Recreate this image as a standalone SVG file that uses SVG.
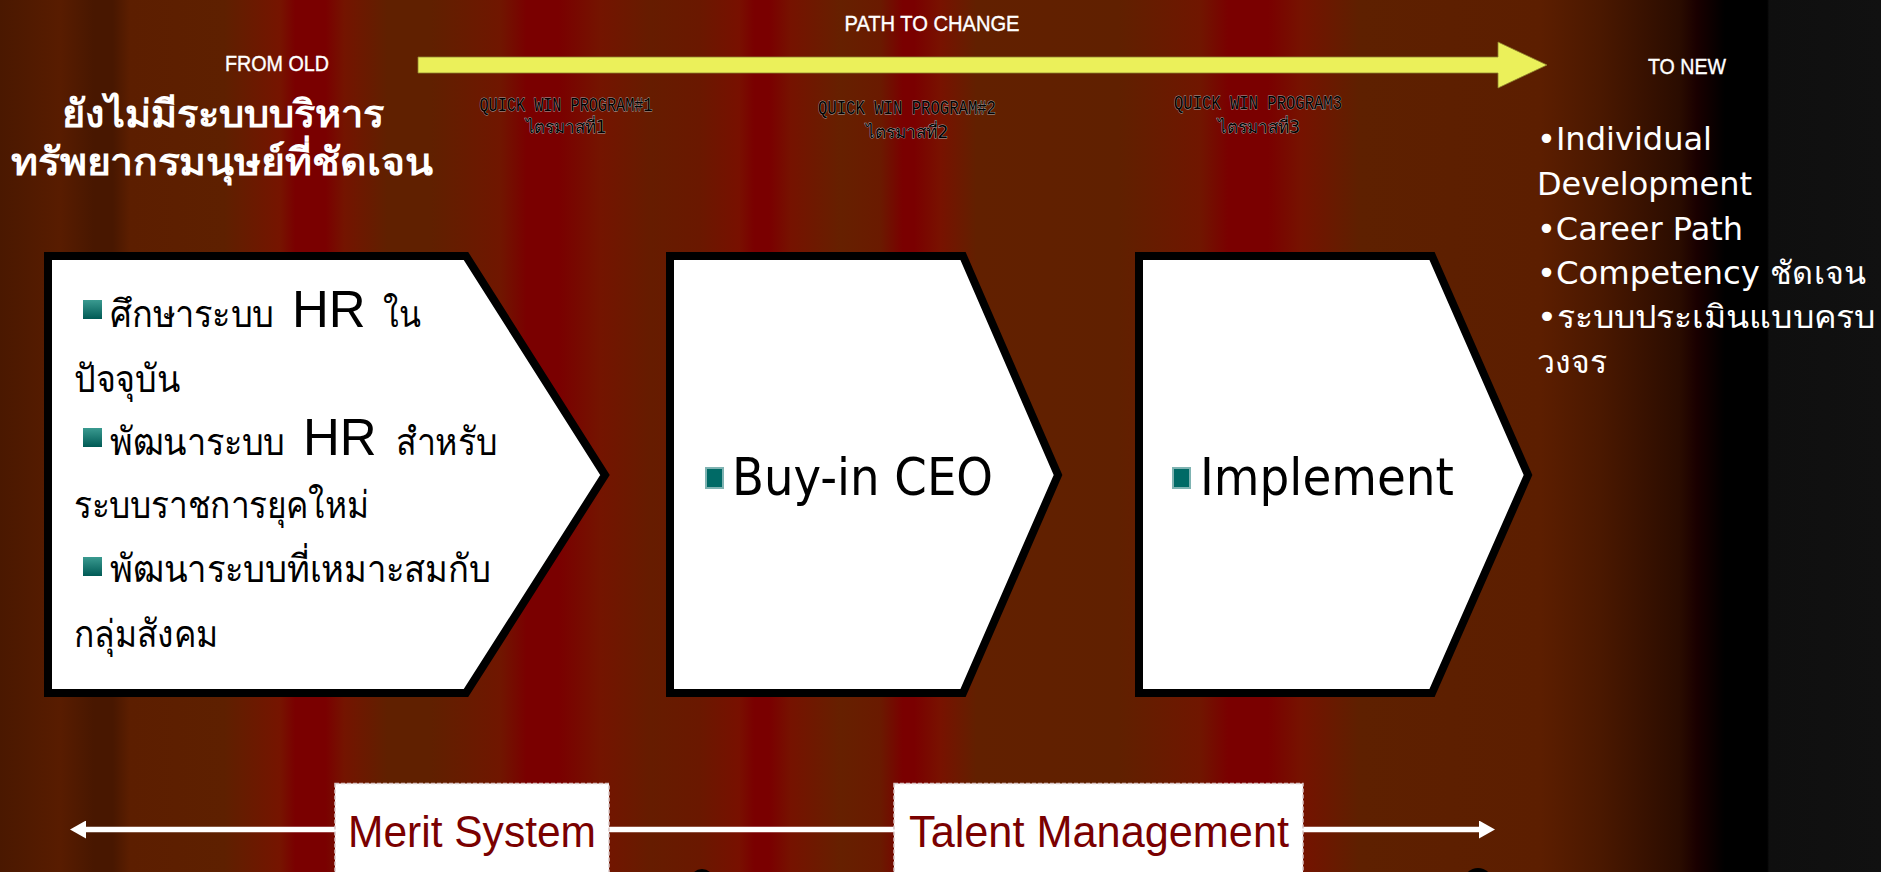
<svg xmlns="http://www.w3.org/2000/svg" width="1881" height="872" viewBox="0 0 1881 872">
<defs>
<linearGradient id="bg" gradientUnits="userSpaceOnUse" x1="0" y1="0" x2="1881" y2="0">
<stop offset="0" stop-color="#4a1800"/>
<stop offset="0.032" stop-color="#581c00"/>
<stop offset="0.050" stop-color="#481700"/>
<stop offset="0.060" stop-color="#481700"/>
<stop offset="0.069" stop-color="#5c1e00"/>
<stop offset="0.119" stop-color="#5e2000"/>
<stop offset="0.149" stop-color="#761400"/>
<stop offset="0.157" stop-color="#7a0000"/>
<stop offset="0.173" stop-color="#7a0000"/>
<stop offset="0.183" stop-color="#741400"/>
<stop offset="0.206" stop-color="#602000"/>
<stop offset="0.229" stop-color="#602000"/>
<stop offset="0.266" stop-color="#701600"/>
<stop offset="0.280" stop-color="#7a0000"/>
<stop offset="0.297" stop-color="#7a0000"/>
<stop offset="0.319" stop-color="#741400"/>
<stop offset="0.346" stop-color="#661c00"/>
<stop offset="0.372" stop-color="#6a1800"/>
<stop offset="0.393" stop-color="#781000"/>
<stop offset="0.401" stop-color="#7a0000"/>
<stop offset="0.409" stop-color="#7a0000"/>
<stop offset="0.420" stop-color="#761200"/>
<stop offset="0.447" stop-color="#662000"/>
<stop offset="0.468" stop-color="#6a1a00"/>
<stop offset="0.480" stop-color="#7a0000"/>
<stop offset="0.486" stop-color="#7a0000"/>
<stop offset="0.500" stop-color="#781200"/>
<stop offset="0.519" stop-color="#622000"/>
<stop offset="0.595" stop-color="#602000"/>
<stop offset="0.638" stop-color="#701600"/>
<stop offset="0.653" stop-color="#7a0000"/>
<stop offset="0.674" stop-color="#7a0000"/>
<stop offset="0.691" stop-color="#761200"/>
<stop offset="0.723" stop-color="#5e2000"/>
<stop offset="0.819" stop-color="#5c1e00"/>
<stop offset="0.851" stop-color="#4a1800"/>
<stop offset="0.893" stop-color="#2a0c00"/>
<stop offset="0.902" stop-color="#1a0000"/>
<stop offset="0.917" stop-color="#000000"/>
<stop offset="0.9395" stop-color="#000000"/>
<stop offset="0.9405" stop-color="#0f0f0f"/>
<stop offset="1" stop-color="#111111"/>
</linearGradient>
<linearGradient id="sq" x1="0" y1="0" x2="0" y2="1">
<stop offset="0" stop-color="#3a9a90"/>
<stop offset="1" stop-color="#005a55"/>
</linearGradient>
<marker id="wh" markerUnits="userSpaceOnUse" viewBox="0 0 16 18" refX="2" refY="9" markerWidth="16" markerHeight="18" orient="auto-start-reverse">
<path d="M0,0 L16,9 L0,18 Z" fill="#ffffff"/>
</marker>
</defs>
<style>
.box{fill:#ffffff;stroke:#000000;stroke-width:8;stroke-linejoin:miter;stroke-miterlimit:10}
.th{font-family:"Liberation Serif","DejaVu Serif",serif;font-size:38px;fill:#000}
.hr{font-family:"Liberation Sans",Arial,sans-serif;font-size:51px;fill:#000}
.big{font-family:"DejaVu Sans",sans-serif;font-size:52px;fill:#000}
.wt{font-family:"DejaVu Sans",sans-serif;fill:#fff}
.hdr{font-family:"Liberation Sans",Arial,sans-serif;font-size:22px;fill:#fff;text-anchor:middle;stroke:#fff;stroke-width:0.4px}
.qw{font-family:"Liberation Mono","DejaVu Sans Mono",monospace;font-size:20px;fill:#000;stroke:#a8a8a8;stroke-width:0.9px;paint-order:stroke;text-anchor:middle}
.qt{font-family:"DejaVu Sans",sans-serif;font-size:17px;fill:#000;stroke:#a8a8a8;stroke-width:0.9px;paint-order:stroke;text-anchor:middle}
.lab{font-family:"Liberation Sans",Arial,sans-serif;font-size:44px;fill:#7a0000}
.lbox{fill:#ffffff;stroke:#d9c6c6;stroke-width:1.5;stroke-dasharray:4 2}
.bul{fill:url(#sq)}
.bul2{fill:#006a66;stroke:#7fb3b2;stroke-width:2}
</style>
<rect x="0" y="0" width="1881" height="872" fill="url(#bg)"/>
<g id="connectors">
<polygon id="path-arrow" points="418,57 1498,57 1498,42 1547,65 1498,88 1498,73 418,73" fill="#ebf05a" stroke="#8f8430" stroke-width="0.8"/>
<line id="timeline" x1="84" y1="829.5" x2="1481" y2="829.5" stroke="#ffffff" stroke-width="5.5" marker-start="url(#wh)" marker-end="url(#wh)"/>
</g>
<g id="header">
<text class="hdr" x="932" y="31" textLength="175" lengthAdjust="spacingAndGlyphs">PATH TO CHANGE</text>
<text class="hdr" x="277" y="71" textLength="104" lengthAdjust="spacingAndGlyphs">FROM OLD</text>
<text class="hdr" x="1687" y="74" textLength="78" lengthAdjust="spacingAndGlyphs">TO NEW</text>
</g>
<g id="old-state">
<text class="wt" font-size="38" font-weight="bold" x="223" y="127" text-anchor="middle" textLength="322" lengthAdjust="spacingAndGlyphs">ยังไม่มีระบบบริหาร</text>
<text class="wt" font-size="38" font-weight="bold" x="222" y="175" text-anchor="middle" textLength="422" lengthAdjust="spacingAndGlyphs">ทรัพยากรมนุษย์ที่ชัดเจน</text>
</g>
<g id="qw1">
<text class="qw" x="566" y="111" textLength="173" lengthAdjust="spacingAndGlyphs">QUICK WIN PROGRAM#1</text>
<text class="qt" x="566" y="133" textLength="81" lengthAdjust="spacingAndGlyphs">ไตรมาสที่1</text>
</g>
<g id="qw2">
<text class="qw" x="907" y="114" textLength="178" lengthAdjust="spacingAndGlyphs">QUICK WIN PROGRAM#2</text>
<text class="qt" x="907" y="138" textLength="83" lengthAdjust="spacingAndGlyphs">ไตรมาสที่2</text>
</g>
<g id="qw3">
<text class="qw" x="1258" y="109" textLength="168" lengthAdjust="spacingAndGlyphs">QUICK WIN PROGRAM3</text>
<text class="qt" x="1259" y="133" textLength="82" lengthAdjust="spacingAndGlyphs">ไตรมาสที่3</text>
</g>
<g id="new-state">
<text class="wt" font-size="32" x="1537" y="150" textLength="175" lengthAdjust="spacingAndGlyphs">•Individual</text>
<text class="wt" font-size="32" x="1537" y="195" textLength="215" lengthAdjust="spacingAndGlyphs">Development</text>
<text class="wt" font-size="32" x="1537" y="240" textLength="206" lengthAdjust="spacingAndGlyphs">•Career Path</text>
<text class="wt" font-size="32" x="1537" y="284" textLength="329" lengthAdjust="spacingAndGlyphs">•Competency ชัดเจน</text>
<text class="wt" font-size="32" x="1537" y="328" textLength="338" lengthAdjust="spacingAndGlyphs">•ระบบประเมินแบบครบ</text>
<text class="wt" font-size="32" x="1537" y="373" textLength="70" lengthAdjust="spacingAndGlyphs">วงจร</text>
</g>
<g id="step1">
<polygon class="box" points="48,256 466,256 605,475 466,693 48,693"/>
<rect class="bul" x="83" y="300" width="19" height="19"/>
<text y="327"><tspan class="th" x="110" textLength="164" lengthAdjust="spacingAndGlyphs">ศึกษาระบบ</tspan><tspan class="hr" x="292">HR</tspan><tspan class="th" x="383" textLength="38" lengthAdjust="spacingAndGlyphs">ใน</tspan></text>
<text class="th" x="74" y="392" textLength="106" lengthAdjust="spacingAndGlyphs">ปัจจุบัน</text>
<rect class="bul" x="83" y="428" width="19" height="19"/>
<text y="455"><tspan class="th" x="110" textLength="175" lengthAdjust="spacingAndGlyphs">พัฒนาระบบ</tspan><tspan class="hr" x="303">HR</tspan><tspan class="th" x="396" textLength="101" lengthAdjust="spacingAndGlyphs">สำหรับ</tspan></text>
<text class="th" x="74" y="518" textLength="295" lengthAdjust="spacingAndGlyphs">ระบบราชการยุคใหม่</text>
<rect class="bul" x="83" y="557" width="19" height="19"/>
<text class="th" x="110" y="582" textLength="381" lengthAdjust="spacingAndGlyphs">พัฒนาระบบที่เหมาะสมกับ</text>
<text class="th" x="74" y="647" textLength="144" lengthAdjust="spacingAndGlyphs">กลุ่มสังคม</text>
</g>
<g id="step2">
<polygon class="box" points="670,256 963,256 1058,475 963,693 670,693"/>
<rect class="bul2" x="706" y="468" width="17" height="20"/>
<text class="big" x="732" y="495" textLength="261" lengthAdjust="spacingAndGlyphs">Buy-in CEO</text>
</g>
<g id="step3">
<polygon class="box" points="1139,256 1432,256 1528,475 1432,693 1139,693"/>
<rect class="bul2" x="1173" y="468" width="17" height="20"/>
<text class="big" x="1200" y="495" textLength="254" lengthAdjust="spacingAndGlyphs">Implement</text>
</g>
<g id="merit">
<rect class="lbox" x="335" y="783.5" width="274" height="100"/>
<text class="lab" x="348" y="847" textLength="248" lengthAdjust="spacingAndGlyphs">Merit System</text>
</g>
<g id="talent">
<rect class="lbox" x="894" y="783.5" width="409" height="100"/>
<text class="lab" x="909" y="847" textLength="380" lengthAdjust="spacingAndGlyphs">Talent Management</text>
</g>
<ellipse cx="702" cy="881" rx="12" ry="12" fill="#000"/>
<ellipse cx="1478" cy="881" rx="14" ry="13" fill="#000"/>
</svg>
